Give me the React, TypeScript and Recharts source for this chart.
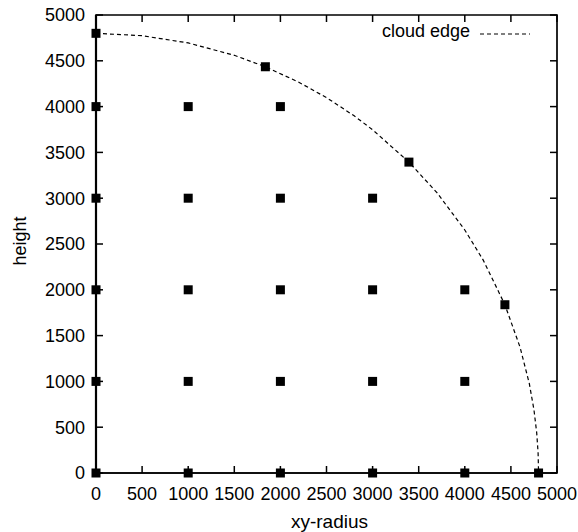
import React from 'react';
import { ScatterChart, Scatter, XAxis, YAxis, Legend } from 'recharts';

// Axis ticks
const xTicks = [0, 500, 1000, 1500, 2000, 2500, 3000, 3500, 4000, 4500, 5000];
const yTicks = [0, 500, 1000, 1500, 2000, 2500, 3000, 3500, 4000, 4500, 5000];

// Sample points inside the cloud (xy-radius, height)
const sampleRadius = [
  0, 0, 0, 0, 0, 0,
  1000, 1000, 1000, 1000, 1000,
  2000, 2000, 2000, 2000, 2000,
  3000, 3000, 3000, 3000,
  4000, 4000, 4000,
  1837, 3394, 4435, 4800,
];
const sampleHeight = [
  0, 1000, 2000, 3000, 4000, 4800,
  0, 1000, 2000, 3000, 4000,
  0, 1000, 2000, 3000, 4000,
  0, 1000, 2000, 3000,
  0, 1000, 2000,
  4435, 3394, 1837, 0,
];

// Cloud edge outline (xy-radius, height)
const edgeRadius = [0, 500, 1000, 1500, 1837, 2200, 2500, 2800, 3000, 3394, 3700, 4000, 4200, 4435, 4600, 4700, 4750, 4780, 4795, 4800];
const edgeHeight = [4800, 4774, 4695, 4560, 4435, 4266, 4098, 3899, 3747, 3394, 3058, 2653, 2324, 1837, 1371, 975, 691, 438, 219, 0];

const samples = sampleRadius.map((x, i) => ({ x, y: sampleHeight[i] }));
const edge = edgeRadius.map((x, i) => ({ x, y: edgeHeight[i] }));

// Plot frame corners and inward tick marks on all four sides
const xMin = xTicks[0];
const xMax = xTicks[xTicks.length - 1];
const yMin = yTicks[0];
const yMax = yTicks[yTicks.length - 1];
const frame = [
  { x: xMin, y: yMin },
  { x: xMin, y: yMax },
  { x: xMax, y: yMax },
  { x: xMax, y: yMin },
  { x: xMin, y: yMin },
];
const tickMarks = [
  ...xTicks.map((t) => ({ x: t, y: yMin, dir: 'up' })),
  ...xTicks.map((t) => ({ x: t, y: yMax, dir: 'down' })),
  ...yTicks.map((t) => ({ x: xMin, y: t, dir: 'right' })),
  ...yTicks.map((t) => ({ x: xMax, y: t, dir: 'left' })),
];

const FONT = '"Liberation Sans", Arial, Helvetica, sans-serif';
const FS = 18;
const TICK_LEN = 7;

const SquareMark = (props: any) => {
  const { cx, cy } = props;
  if (cx == null || cy == null) return null;
  return <rect x={cx - 4.5} y={cy - 4.5} width={9} height={9} fill="#000" />;
};

const NoMark = () => null;

const TickMark = (props: any) => {
  const { cx, cy, payload } = props;
  if (cx == null || cy == null) return null;
  const dir = payload?.dir;
  let x2 = cx;
  let y2 = cy;
  if (dir === 'up') y2 = cy - TICK_LEN;
  if (dir === 'down') y2 = cy + TICK_LEN;
  if (dir === 'right') x2 = cx + TICK_LEN;
  if (dir === 'left') x2 = cx - TICK_LEN;
  return <path d={`M${cx},${cy}L${x2},${y2}`} stroke="#000" strokeWidth={1.5} fill="none" />;
};

const BottomTick = (props: any) => {
  const { x, y, payload } = props;
  return (
    <text x={x} y={y} dy="0.72em" textAnchor="middle" fontSize={FS} fontFamily={FONT} fill="#000">
      {payload.value}
    </text>
  );
};

const LeftTick = (props: any) => {
  const { x, y, payload } = props;
  return (
    <text x={x} y={y} dy="0.36em" textAnchor="end" fontSize={FS} fontFamily={FONT} fill="#000">
      {payload.value}
    </text>
  );
};

const LegendBox = () => (
  <svg width={180} height={24} style={{ display: 'block' }}>
    <text x={110} y={15} textAnchor="end" fontSize={FS} fontFamily={FONT} fill="#000">
      cloud edge
    </text>
    <line x1={120} y1={12} x2={170} y2={12} stroke="#000" strokeWidth={1.2} strokeDasharray="4 3" />
  </svg>
);

const YLabel = (props: any) => {
  const vb = props.viewBox || {};
  const cx = vb.x + 26;
  const cy = vb.y + vb.height / 2 - 3;
  return (
    <text x={cx} y={cy} transform={`rotate(-90, ${cx}, ${cy})`} textAnchor="middle" fontSize={FS} fontFamily={FONT} fill="#000">
      height
    </text>
  );
};

const XLabel = (props: any) => {
  const vb = props.viewBox || {};
  return (
    <text x={vb.x + vb.width / 2 + 3} y={vb.y + 55} textAnchor="middle" fontSize={FS + 1} fontFamily={FONT} fill="#000">
      xy-radius
    </text>
  );
};

export default function App() {
  return (
    <div style={{ position: 'absolute', left: 0, top: 0, width: 578, height: 532 }}>
      <ScatterChart width={578} height={532} margin={{ top: 15, right: 21, bottom: 0, left: 0 }}>
        <XAxis
          type="number"
          dataKey="x"
          domain={[xMin, xMax]}
          ticks={xTicks}
          height={59}
          tick={<BottomTick />}
          tickSize={0}
          tickMargin={14}
          tickLine={false}
          axisLine={{ stroke: '#000', strokeWidth: 1.6 }}
          label={<XLabel />}
        />
        <YAxis
          type="number"
          dataKey="y"
          domain={[yMin, yMax]}
          ticks={yTicks}
          width={96}
          tick={<LeftTick />}
          tickSize={0}
          tickMargin={11}
          tickLine={false}
          axisLine={{ stroke: '#000', strokeWidth: 2.2 }}
          label={<YLabel />}
        />
        <Legend
          layout="horizontal"
          verticalAlign="middle"
          align="center"
          wrapperStyle={{ left: 360, top: 22, width: 180, height: 24 }}
          content={<LegendBox />}
        />
        <Scatter
          name="frame"
          data={frame}
          shape={<NoMark />}
          line={{ stroke: '#000', strokeWidth: 1.7 }}
          lineType="joint"
          legendType="none"
          isAnimationActive={false}
        />
        <Scatter
          name="ticks"
          data={tickMarks}
          shape={<TickMark />}
          legendType="none"
          isAnimationActive={false}
        />
        <Scatter
          name="cloud edge"
          data={edge}
          shape={<NoMark />}
          line={{ stroke: '#000', strokeWidth: 1.2, strokeDasharray: '4 3' }}
          lineType="joint"
          isAnimationActive={false}
        />
        <Scatter
          name="samples"
          data={samples}
          shape={<SquareMark />}
          legendType="none"
          isAnimationActive={false}
        />
      </ScatterChart>
    </div>
  );
}
